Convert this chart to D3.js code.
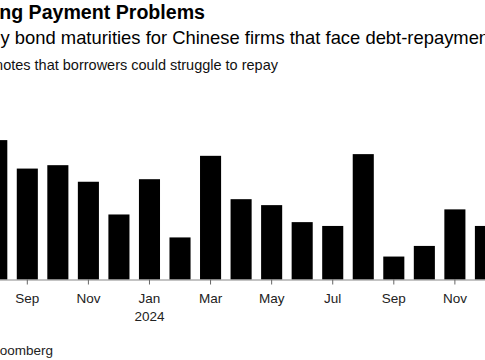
<!DOCTYPE html>
<html><head><meta charset="utf-8">
<script src="https://cdn.jsdelivr.net/npm/d3@7/dist/d3.min.js"></script>
<style>
html,body{margin:0;padding:0;background:#fff;overflow:hidden;}
svg{display:block;font-family:"Liberation Sans",Arial,Helvetica,sans-serif;}
</style></head>
<body>
<svg id="chart" width="485" height="360"></svg>
<script>
// Monthly bond maturities (approx., billion yuan), Aug 2023 – Dec 2024
const months = ["2023-08","2023-09","2023-10","2023-11","2023-12","2024-01","2024-02","2024-03","2024-04","2024-05","2024-06","2024-07","2024-08","2024-09","2024-10","2024-11","2024-12"];
const maturities = [32.8,26.1,26.9,23.0,15.3,23.6,9.9,29.1,18.9,17.5,13.5,12.6,29.5,5.4,7.9,16.5,12.6];
const tickMonths = ["2023-09","2023-11","2024-01","2024-03","2024-05","2024-07","2024-09","2024-11"];
const tickLabels = {"2023-09":["Sep"],"2023-11":["Nov"],"2024-01":["Jan","2024"],"2024-03":["Mar"],"2024-05":["May"],"2024-07":["Jul"],"2024-09":["Sep"],"2024-11":["Nov"]};
const titleText = "Mounting Payment Problems";
const subtitleText = "Monthly bond maturities for Chinese firms that face debt-repayment stress";
const noteText = "Note: Includes notes that borrowers could struggle to repay";
const sourceText = "Source: Bloomberg";

const svg = d3.select("#chart");
const baseY = 279.5;

const x = d3.scaleBand().domain(months).range([-18.5, 500.7]).paddingInner(0.31).paddingOuter(0.155);
const y = d3.scaleLinear().domain([0, 40]).range([baseY, baseY - 170]);

// Titles
svg.append("text").attr("x", 205).attr("y", 19).attr("text-anchor","end")
  .attr("font-size", 19.6).attr("font-weight","bold").attr("fill","#000").text(titleText);

const sub = svg.append("text").attr("y", 44).attr("font-size", 18.4).attr("fill","#000").text(subtitleText);
// place so that the visible part starts with the final "y" of the first word
const probe = svg.append("text").attr("font-size",18.4).text("Monthl");
const pre = probe.node().getComputedTextLength();
probe.remove();
sub.attr("x", -pre + 0.5);

svg.append("text").attr("x", 278).attr("y", 70).attr("text-anchor","end")
  .attr("font-size", 14.5).attr("fill","#111").text(noteText);

// Bars
svg.append("g").selectAll("rect").data(months).join("rect")
  .attr("x", d => x(d)).attr("width", x.bandwidth())
  .attr("y", (d,i) => y(maturities[i])).attr("height", (d,i) => baseY - y(maturities[i]))
  .attr("fill","#000");

// Axis
const axis = d3.axisBottom(x).tickValues(tickMonths).tickSize(5).tickSizeOuter(0).tickFormat("");
const g = svg.append("g").attr("transform", `translate(0,${baseY})`).call(axis);
g.select(".domain").attr("stroke","#888").attr("stroke-width",1);
g.selectAll(".tick line").attr("stroke","#666");
g.selectAll(".tick").each(function(d){
  const t = d3.select(this).append("text").attr("text-anchor","middle").attr("fill","#222")
    .attr("font-size", 13.5).attr("font-family","'Liberation Sans',Arial,sans-serif");
  tickLabels[d].forEach((s,i) => t.append("tspan").attr("x",0).attr("y", 23.5 + i*18).text(s));
});

svg.append("text").attr("x", 53).attr("y", 355).attr("text-anchor","end")
  .attr("font-size", 13.5).attr("fill","#222").text(sourceText);
</script>
</body></html>
